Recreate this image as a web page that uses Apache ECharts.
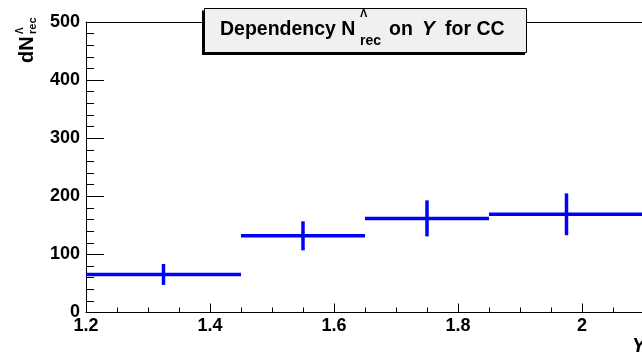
<!DOCTYPE html>
<html>
<head>
<meta charset="utf-8">
<script src="https://cdn.jsdelivr.net/npm/echarts@6/dist/echarts.min.js"></script>
<style>
html,body{margin:0;padding:0;background:#fff;overflow:hidden;width:642px;height:355px;}
#chart{width:709px;height:355px;}
</style>
</head>
<body>
<div id="chart"></div>
<script>
// Data
var binLow  = [1.2, 1.45, 1.65, 1.85];
var binHigh = [1.45, 1.65, 1.85, 2.1];
var values  = [65.5, 132, 162, 169];
var errors  = [18, 25, 31, 36];
var xTicks = [1.2, 1.4, 1.6, 1.8, 2.0];
var yTicks = [0, 100, 200, 300, 400, 500];

var FONT = '"Liberation Sans", Arial, Helvetica, sans-serif';
var data = binLow.map(function (lo, i) {
  return [lo, binHigh[i], values[i], errors[i]];
});

var chart = echarts.init(document.getElementById('chart'), null, {renderer: 'canvas'});

function txt(text, x, y, size, opts) {
  opts = opts || {};
  return {
    type: 'text', x: x, y: y, z: 101,
    style: {
      text: text,
      font: (opts.italic ? 'italic ' : '') + 'bold ' + size + 'px ' + FONT,
      fill: '#000',
      align: opts.align || 'left',
      verticalAlign: 'middle'
    }
  };
}

var option = {
  animation: false,
  backgroundColor: '#fff',
  grid: {left: 86, right: 0, top: 22, height: 290.5, containLabel: false},
  xAxis: [{
    type: 'value',
    min: 1.2, max: 2.2, interval: 0.2,
    axisLine: {show: true, onZero: false, lineStyle: {color: '#000', width: 1}},
    axisTick: {show: true, inside: true, length: 9, lineStyle: {color: '#000'}},
    minorTick: {show: true, splitNumber: 4, length: 5, lineStyle: {color: '#000'}},
    splitLine: {show: false},
    axisLabel: {
      show: true, margin: 5, fontSize: 18, fontWeight: 'bold', fontFamily: FONT, color: '#000',
      formatter: function (v) {
        for (var i = 0; i < xTicks.length; i++) {
          if (Math.abs(xTicks[i] - v) < 1e-6) return String(+xTicks[i].toFixed(1));
        }
        return '';
      }
    }
  }, {
    type: 'value', position: 'top',
    min: 1.2, max: 2.2,
    axisLine: {show: true, onZero: false, lineStyle: {color: '#000', width: 1}},
    axisTick: {show: false}, axisLabel: {show: false}, splitLine: {show: false}
  }],
  yAxis: {
    type: 'value',
    min: 0, max: 500, interval: 100,
    axisLine: {show: true, onZero: false, lineStyle: {color: '#000', width: 1}},
    axisTick: {show: true, inside: true, length: 18, lineStyle: {color: '#000'}},
    minorTick: {show: true, splitNumber: 5, length: 8, lineStyle: {color: '#000'}},
    splitLine: {show: false},
    axisLabel: {
      show: true, margin: 6, fontSize: 18, fontWeight: 'bold', fontFamily: FONT, color: '#000',
      formatter: function (v) { return yTicks.indexOf(v) >= 0 ? String(v) : ''; }
    }
  },
  series: [{
    type: 'custom',
    xAxisIndex: 0,
    data: data,
    encode: {x: [0, 1], y: 2},
    renderItem: function (params, api) {
      var lo = api.value(0), hi = api.value(1), v = api.value(2), e = api.value(3);
      var c = (lo + hi) / 2;
      var p1 = api.coord([lo, v]), p2 = api.coord([hi, v]);
      var q1 = api.coord([c, v - e]), q2 = api.coord([c, v + e]);
      var st = {stroke: '#0000ff', lineWidth: 3.5, lineCap: 'butt'};
      return {
        type: 'group',
        children: [
          {type: 'line', shape: {x1: p1[0], y1: p1[1], x2: p2[0], y2: p2[1]}, style: st},
          {type: 'line', shape: {x1: q1[0], y1: q1[1], x2: q2[0], y2: q2[1]}, style: st}
        ]
      };
    }
  }],
  graphic: [
    // title box shadow and box
    {type: 'rect', z: 100, shape: {x: 202, y: 10.5, width: 323, height: 44.5}, style: {fill: '#000'}},
    {type: 'rect', z: 100, shape: {x: 204.5, y: 8.5, width: 322, height: 44}, style: {fill: '#f0f0f0', stroke: '#000', lineWidth: 1}},
    txt('Dependency N', 220, 30, 19.5),
    txt('\u039B', 360, 14, 11),
    txt('rec', 360, 41, 14),
    txt('on', 389, 30, 19.5),
    txt('Y', 422, 30, 19.5, {italic: true}),
    txt('for CC', 445, 30, 19.5),
    // y-axis title (rotated)
    {
      type: 'group', x: 27, y: 63, rotation: Math.PI / 2, z: 101,
      children: [
        txt('dN', 0, 0, 20),
        txt('\u039B', 29, -7, 10),
        txt('rec', 29, 6, 11)
      ]
    },
    // x-axis title
    {type: 'text', x: 632, y: 336, z: 101,
     style: {text: 'Y', font: 'italic bold 20px ' + FONT, fill: '#000', align: 'left', verticalAlign: 'top'}}
  ]
};
chart.setOption(option);
</script>
</body>
</html>
